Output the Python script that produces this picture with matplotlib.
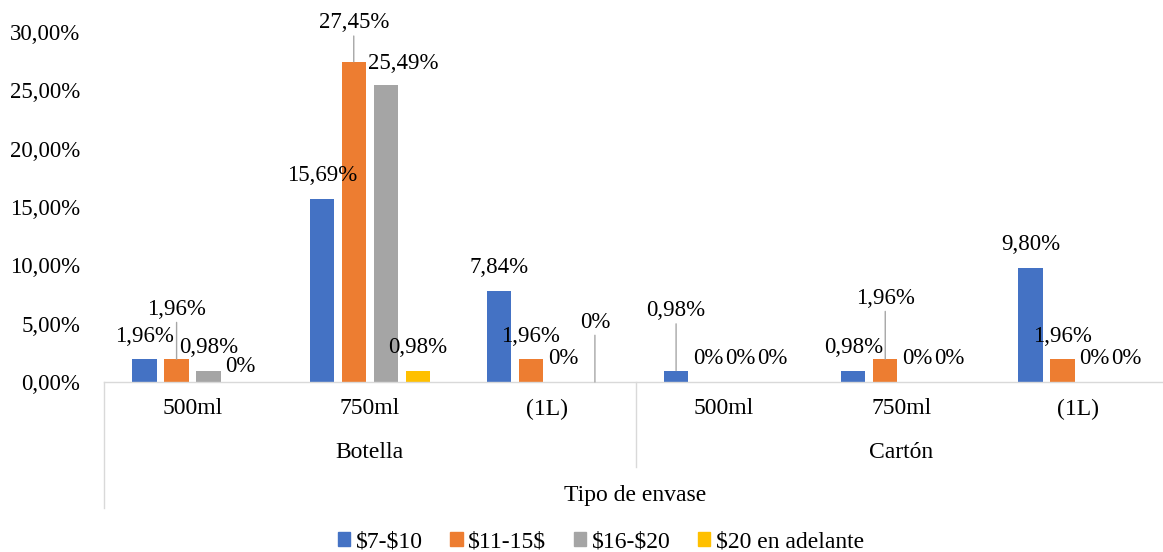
import numpy as np
import matplotlib
matplotlib.use("Agg")
import matplotlib.pyplot as plt
from matplotlib.patches import Patch
from matplotlib.transforms import blended_transform_factory

plt.rcParams['font.family'] = ['Liberation Serif', 'DejaVu Serif']
plt.rcParams['text.parse_math'] = False

# Datos (% de encuestados)
tamanos = ["500ml", "750ml", "(1L)", "500ml", "750ml", "(1L)"]
envases = ["Botella", "Cartón"]
series = ["$7-$10", "$11-15$", "$16-$20", "$20 en adelante"]
precio_7_10 = [1.96, 15.69, 7.84, 0.98, 0.98, 9.80]
precio_11_15 = [1.96, 27.45, 1.96, 0, 1.96, 1.96]
precio_16_20 = [0.98, 25.49, 0, 0, 0, 0]
precio_20_mas = [0, 0.98, 0, 0, 0, 0]
valores = [precio_7_10, precio_11_15, precio_16_20, precio_20_mas]
colores = ['#4472C4', '#ED7D31', '#A5A5A5', '#FFC000']

# etiquetas movidas a mano (grupo, serie): (dx px, dy px, linea guia)
ajustes = {(0, 1): (0, 27, True), (0, 3): (0, -7, False),
           (1, 1): (0, 16, True), (1, 2): (18, -2, False),
           (2, 3): (0, 37, True), (3, 0): (0, 37, True),
           (4, 1): (0, 38, True)}

def fmt(v):
    if v == 0:
        return "0%"
    return f"{v:.2f}%".replace('.', ',')

px = 0.72  # puntos por pixel a 100 dpi
fs_num = 16.5
fs_txt = 17

fig = plt.figure(figsize=(11.63, 5.52), dpi=100)
ax = fig.add_axes([104 / 1163, (552 - 382) / 552, 1063 / 1163, 350 / 552])

x = np.arange(len(tamanos))
ancho = 0.138
paso = 0.1806
for i, vals in enumerate(valores):
    pos = x + (i - 1.5) * paso
    ax.bar(pos, vals, width=ancho, color=colores[i], zorder=2)
    for g, (xp, v) in enumerate(zip(pos, vals)):
        dx, dy, guia = ajustes.get((g, i), (0, 0, False))
        kw = {}
        if guia:
            kw['arrowprops'] = dict(arrowstyle='-', color='#a6a6a6', lw=1,
                                    shrinkA=0, shrinkB=0)
        ax.annotate(fmt(v), xy=(xp, v), xytext=(dx * px, (23 + dy) * px),
                    textcoords='offset points', ha='center', va='center',
                    fontsize=fs_num, color='black', annotation_clip=False, **kw)

ax.set_xlim(-0.5, 5.5)
ax.set_ylim(0, 30)
yticks = list(range(0, 31, 5))
ax.set_yticks(yticks)
ax.set_yticklabels([f"{v:.2f}%".replace('.', ',') for v in yticks])
ax.tick_params(axis='y', length=0, pad=17, labelsize=fs_num, labelcolor='black')
ax.set_xticks([])
for s in ['top', 'right', 'left']:
    ax.spines[s].set_visible(False)
ax.spines['bottom'].set_color('#d9d9d9')
ax.spines['bottom'].set_linewidth(1)

# eje de categorias en varios niveles
tr = blended_transform_factory(ax.transData, ax.transAxes)
ax.plot([-0.5, -0.5], [0, -(508 - 382) / 350], transform=tr, color='#d9d9d9',
        lw=1, clip_on=False)
ax.plot([2.5, 2.5], [0, -(467 - 382) / 350], transform=tr, color='#d9d9d9',
        lw=1, clip_on=False)
for xi, t in zip(x, tamanos):
    ax.annotate(t, xy=(xi, 0), xytext=(0, -27 * px), textcoords='offset points',
                ha='center', va='center', fontsize=fs_txt, annotation_clip=False)
for k, e in enumerate(envases):
    ax.annotate(e, xy=(3 * k + 1, 0), xytext=(0, -70 * px), textcoords='offset points',
                ha='center', va='center', fontsize=fs_txt, annotation_clip=False)
ax.annotate("Tipo de envase", xy=(2.5, 0), xytext=(0, -113 * px),
            textcoords='offset points', ha='center', va='center', fontsize=fs_txt,
            annotation_clip=False)

handles = [Patch(color=c) for c in colores]
fig.legend(handles, series, loc='center', bbox_to_anchor=(601 / 1163, 1 - 542 / 552),
           ncol=4, frameon=False, fontsize=fs_txt, handlelength=0.52, handleheight=0.52,
           handletextpad=0.25, columnspacing=1.15, borderpad=0)

fig.savefig("out.png", dpi=100)
